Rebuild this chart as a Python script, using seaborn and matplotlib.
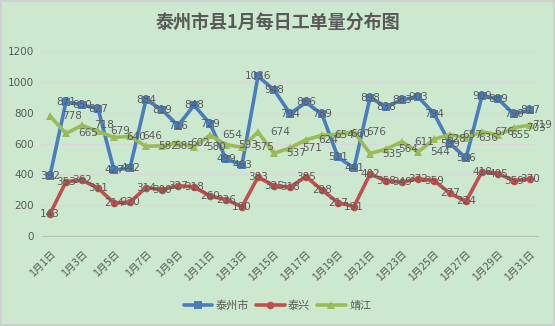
import matplotlib
matplotlib.use("Agg")
import matplotlib.pyplot as plt
import seaborn as sns
import pandas as pd
import numpy as np

# Daily ticket counts for January
days = [f"1月{d}日" for d in range(1, 32)]
taizhou = [392, 871, 850, 827, 427, 442, 884, 819, 716, 848, 729, 499, 463, 1036, 948, 794,
           866, 789, 511, 441, 898, 838, 883, 903, 794, 599, 506, 909, 889, 790, 817]
taixing = [143, 353, 362, 311, 214, 220, 314, 300, 327, 318, 260, 236, 190, 383, 325, 318,
           385, 298, 217, 191, 402, 358, 349, 372, 359, 277, 224, 418, 405, 359, 370]
jingjiang = [778, 665, 718, 679, 640, 646, 582, 585, 602, 580, 654, 593, 575, 674, 537, 571,
             624, 654, 660, 676, 535, 564, 611, 544, 628, 657, 636, 676, 655, 703, 719]
series_names = ["泰州市", "泰兴", "靖江"]
title = "泰州市县1月每日工单量分布图"

bg = "#CCE8CF"
text_c = "#595959"
colors = {"泰州市": "#4A7EBB", "泰兴": "#C0504D", "靖江": "#9BBB59"}
markers = {"泰州市": "s", "泰兴": "o", "靖江": "^"}

sns.set_theme(style="white")
plt.rcParams["font.family"] = ["Noto Sans CJK SC", "DejaVu Sans"]
plt.rcParams["axes.unicode_minus"] = False

idx = np.arange(len(days))
df = pd.concat([
    pd.DataFrame({"idx": idx, "value": vals, "series": name})
    for name, vals in zip(series_names, [taizhou, taixing, jingjiang])
], ignore_index=True)

fig = plt.figure(figsize=(5.55, 3.26), dpi=100, facecolor=bg, edgecolor="#D0D0D0", linewidth=1.5)
ax = fig.add_axes([0.0757, 0.276, 0.8937, 0.5676])
ax.set_facecolor(bg)

sns.lineplot(data=df, x="idx", y="value", hue="series", style="series",
             hue_order=series_names, style_order=series_names,
             palette=colors, markers=markers, dashes=False,
             linewidth=2.6, markersize=5.5, markeredgewidth=0, ax=ax, legend=True)

# data labels: centred on the point for 泰州市/泰兴, to the right for 靖江
last = len(days) - 1
for name, vals in zip(series_names, [taizhou, taixing, jingjiang]):
    for i, v in enumerate(vals):
        if name == "靖江":
            # the final label is kept inside the chart area
            dx = 1.5 if i == last else 8.5
            ax.annotate(str(v), (i, v), xytext=(dx, 0), textcoords="offset points",
                        ha="left", va="center", fontsize=7.5, color=text_c,
                        family=["DejaVu Sans"], annotation_clip=False)
        else:
            ax.annotate(str(v), (i, v), xytext=(0, 0), textcoords="offset points",
                        ha="center", va="center", fontsize=7.5, color=text_c,
                        family=["DejaVu Sans"], annotation_clip=False)

ax.set_xlim(-0.5, len(days) - 0.5)
ax.set_ylim(0, 1200)
ax.set_yticks(range(0, 1201, 200))
ax.set_yticklabels([str(v) for v in range(0, 1201, 200)], fontsize=7.5, color=text_c,
                   family=["DejaVu Sans"])
ax.set_xticks(idx[::2])
ax.set_xticklabels(days[::2], rotation=45, ha="right", rotation_mode="anchor",
                   fontsize=7.5, color=text_c)
ax.set_xticks(np.arange(-0.5, len(days), 2), minor=True)
ax.tick_params(axis="x", which="major", length=0, pad=9)
ax.tick_params(axis="x", which="minor", length=4, color="#BFBFBF", width=0.8, direction="out")
ax.tick_params(axis="y", length=0, pad=6)
ax.grid(axis="y", color="#D9D9D9", linewidth=0.9)
ax.set_axisbelow(True)
for s in ["top", "right", "left"]:
    ax.spines[s].set_visible(False)
ax.spines["bottom"].set_color("#BFBFBF")
ax.spines["bottom"].set_linewidth(0.8)
ax.set_xlabel("")
ax.set_ylabel("")

handles, labels = ax.get_legend_handles_labels()
ax.legend_.remove()
fig.legend(handles, labels, loc="center", bbox_to_anchor=(0.5, 0.062), ncol=3,
           frameon=False, fontsize=8, handlelength=2.6, columnspacing=0.6,
           handletextpad=0.3, labelcolor=text_c)

fig.text(0.5, 0.932, title, ha="center", va="center", fontsize=13, fontweight="bold",
         color=text_c)

fig.savefig("out.png", dpi=100, facecolor=bg, edgecolor="#D0D0D0")
